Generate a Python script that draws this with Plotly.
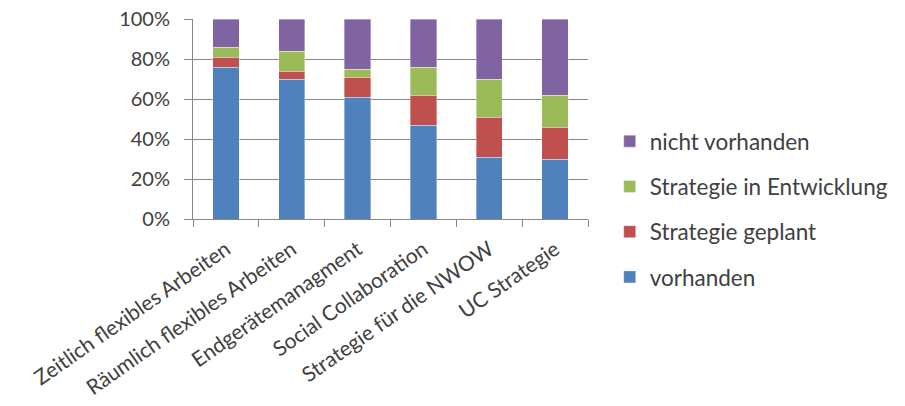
import plotly.graph_objects as go

categories = ["Zeitlich flexibles Arbeiten", "Räumlich flexibles Arbeiten", "Endgerätemanagment",
              "Social Collaboration", "Strategie für die NWOW", "UC Strategie"]
vorhanden = [76, 70, 61, 47, 31, 30]
geplant = [5, 4, 10, 15, 20, 16]
entwicklung = [5, 10, 4, 14, 19, 16]
nicht = [14, 16, 25, 24, 30, 38]
y_ticks = [0, 20, 40, 60, 80, 100]
y_tick_labels = ["0%", "20%", "40%", "60%", "80%", "100%"]

series = [
    ("vorhanden", vorhanden, "#4F81BD"),
    ("Strategie geplant", geplant, "#C0504D"),
    ("Strategie in Entwicklung", entwicklung, "#9BBB59"),
    ("nicht vorhanden", nicht, "#8064A2"),
]

font_family = "Lato, Liberation Sans, sans-serif"
fig = go.Figure()
for i, (name, vals, color) in enumerate(series):
    fig.add_trace(go.Bar(x=categories, y=vals, name=name, legendgroup=name,
                         legendrank=10 - i,
                         marker=dict(color=color, line=dict(color="rgba(255,255,255,0.6)", width=0.6)),
                         width=0.4))

fig.update_layout(
    barmode="stack",
    width=905, height=406,
    margin=dict(l=193, r=317, t=19, b=187),
    paper_bgcolor="white", plot_bgcolor="white",
    font=dict(family=font_family, size=20, color="#404040"),
    showlegend=True,
    legend=dict(x=1.055, y=0.05, xanchor="left", yanchor="middle",
                traceorder="grouped", tracegroupgap=13,
                font=dict(size=22.5, color="#404040"), itemwidth=30),
    xaxis=dict(tickangle=-35, showline=True, linecolor="#868686", linewidth=1,
               ticks="outside", tickson="boundaries", ticklen=7, tickcolor="#868686",
               ticklabelstandoff=9,
               tickfont=dict(size=21), automargin=False),
    yaxis=dict(range=[0, 100], tickvals=y_ticks, ticktext=y_tick_labels,
               showline=True, linecolor="#868686", linewidth=1,
               showgrid=True, gridcolor="#868686", gridwidth=1,
               ticks="outside", ticklen=8, tickcolor="#868686", ticklabelstandoff=10,
               tickfont=dict(size=20), zeroline=False, automargin=False),
)

fig.write_html("out.html")
